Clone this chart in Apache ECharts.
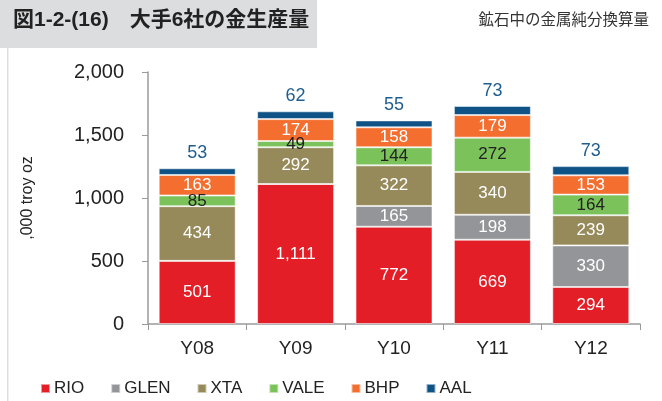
<!doctype html>
<html lang="ja">
  <head>
    <meta charset="UTF-8" />
    <title>大手6社の金生産量</title>
    <style>
      html, body { margin: 0; padding: 0; background: #fff; }
      #goldChart { width: 662px; height: 401px; }
    </style>
  </head>
  <body>
    <div id="goldChart"></div>

    <script src="https://cdn.jsdelivr.net/npm/echarts@6/dist/echarts.min.js"></script>
    <script>
      // データ
      const years = ['Y08', 'Y09', 'Y10', 'Y11', 'Y12']
      const rio = [501, 1111, 772, 669, 294]
      const glen = [0, 0, 165, 198, 330]
      const xta = [434, 292, 322, 340, 239]
      const vale = [85, 49, 144, 272, 164]
      const bhp = [163, 174, 158, 179, 153]
      const aal = [53, 62, 55, 73, 73]
      const yTicks = [0, 500, 1000, 1500, 2000]

      const font = '"Liberation Sans", Arial, sans-serif'
      const fmt = (v) => v.toLocaleString('en-US')

      function layer(name, data, color, textColor) {
        return {
          name: name,
          type: 'bar',
          stack: 'total',
          data: data,
          barWidth: 77,
          itemStyle: { color: color, borderColor: 'rgba(255,255,255,0.55)', borderWidth: 1 },
          label: {
            show: true,
            position: 'inside',
            color: textColor,
            fontFamily: font,
            fontSize: 17,
            formatter: (p) => (p.value ? fmt(p.value) : '')
          }
        }
      }

      const chart = echarts.init(document.querySelector('#goldChart'))
      const series = [
        layer('RIO', rio, '#e31e26', '#fff'),
        layer('GLEN', glen, '#939598', '#fff'),
        layer('XTA', xta, '#96895a', '#fff'),
        layer('VALE', vale, '#7bc25b', '#222'),
        layer('BHP', bhp, '#f36e2f', '#fff'),
        layer('AAL', aal, '#0f5286', '#1f5d8e')
      ]
      series[5].label.position = 'top'
      series[5].label.distance = 6
      series[5].label.fontSize = 18

      chart.setOption({
        animation: false,
        graphic: [
          { type: 'rect', shape: { x: 0, y: 0, width: 317, height: 48 }, style: { fill: '#dcdddf' } },
          { type: 'rect', shape: { x: 7, y: 48, width: 1.5, height: 353 }, style: { fill: '#dcdddf' } },
          {
            type: 'text', left: 13, top: 10,
            style: { text: '図1-2-(16)　大手6社の金生産量', font: 'bold 21px "Liberation Sans", "Noto Sans CJK JP", sans-serif', fill: '#222' }
          },
          {
            type: 'text', right: 13, top: 11,
            style: { text: '鉱石中の金属純分換算量', font: '15.5px "Noto Sans CJK JP", sans-serif', fill: '#333' }
          }
        ],
        grid: { left: 148, right: 22, top: 72, bottom: 77 },
        legend: {
          left: 35, top: 375,
          itemWidth: 9, itemHeight: 9, itemGap: 26,
          icon: 'rect',
          textStyle: { fontFamily: font, fontSize: 17, color: '#222', padding: [0, 0, 0, -1] },
          data: series.map((s) => s.name)
        },
        xAxis: {
          type: 'category',
          data: years,
          axisLine: { lineStyle: { color: '#9a9a9a', width: 1.5 } },
          axisTick: { show: true, length: 6, lineStyle: { color: '#9a9a9a' } },
          axisLabel: { fontFamily: font, fontSize: 19, color: '#222', margin: 15 }
        },
        yAxis: {
          type: 'value',
          min: yTicks[0],
          max: yTicks[yTicks.length - 1],
          interval: 500,
          name: ',000 troy oz',
          nameLocation: 'middle',
          nameGap: 112,
          nameTextStyle: { fontFamily: font, fontSize: 16, color: '#222' },
          splitLine: { show: false },
          axisLine: { show: true, lineStyle: { color: '#9a9a9a', width: 1.5 } },
          axisTick: { show: true, length: 6, lineStyle: { color: '#9a9a9a' } },
          axisLabel: { fontFamily: font, fontSize: 20, color: '#222', margin: 24, formatter: fmt }
        },
        series: series
      })
    </script>
  </body>
</html>
